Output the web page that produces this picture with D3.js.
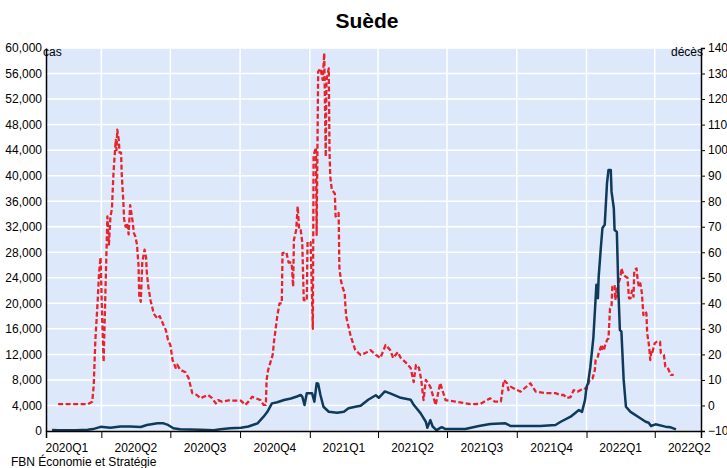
<!DOCTYPE html>
<html>
<head>
<meta charset="utf-8">
<script src="https://cdn.jsdelivr.net/npm/d3@7"></script>
<style>
  html, body { margin: 0; padding: 0; background: #ffffff; }
  svg { display: block; font-family: Arial, "Liberation Sans", sans-serif; }
</style>
</head>
<body>
<svg id="chart" width="727" height="468"></svg>
<script>
// ---------- data ----------
const title = "Suède";
const leftLabel = "cas";
const rightLabel = "décès";
const source = "FBN Économie et Stratégie";
const quarterLabels = ["2020Q1","2020Q2","2020Q3","2020Q4","2021Q1","2021Q2","2021Q3","2021Q4","2022Q1","2022Q2"];
const leftTicks = [0,4000,8000,12000,16000,20000,24000,28000,32000,36000,40000,44000,48000,52000,56000,60000];
const rightTicks = [-10,0,10,20,30,40,50,60,70,80,90,100,110,120,130,140];

// cases (left axis)
const caseDates = ["2020-01-27","2020-02-04","2020-02-27","2020-03-14","2020-03-21","2020-03-31","2020-04-13","2020-04-26","2020-05-09","2020-05-23","2020-05-31","2020-06-14","2020-06-22","2020-06-28","2020-07-05","2020-07-14","2020-08-10","2020-08-27","2020-09-05","2020-09-18","2020-10-02","2020-10-12","2020-10-24","2020-11-01","2020-11-06","2020-11-12","2020-11-19","2020-11-28","2020-12-07","2020-12-15","2020-12-20","2020-12-22","2020-12-25","2020-12-28","2021-01-04","2021-01-07","2021-01-10","2021-01-12","2021-01-15","2021-01-19","2021-01-26","2021-02-06","2021-02-15","2021-02-21","2021-03-02","2021-03-09","2021-03-19","2021-03-29","2021-04-02","2021-04-10","2021-04-17","2021-05-01","2021-05-14","2021-05-18","2021-05-27","2021-06-03","2021-06-05","2021-06-09","2021-06-12","2021-06-17","2021-06-24","2021-06-29","2021-07-25","2021-08-12","2021-08-27","2021-09-16","2021-09-23","2021-11-01","2021-11-21","2021-11-28","2021-12-11","2021-12-22","2021-12-26","2021-12-30","2022-01-01","2022-01-03","2022-01-06","2022-01-10","2022-01-12","2022-01-14","2022-01-16","2022-01-17","2022-01-20","2022-01-22","2022-01-25","2022-01-28","2022-01-30","2022-02-02","2022-02-03","2022-02-06","2022-02-07","2022-02-10","2022-02-12","2022-02-14","2022-02-16","2022-02-19","2022-02-22","2022-02-28","2022-03-13","2022-03-20","2022-03-24","2022-03-27","2022-04-02","2022-04-15","2022-04-22","2022-04-29"];
const caseValues = [150,100,120,200,300,650,520,700,700,620,940,1200,1200,950,430,270,180,120,260,420,520,700,1200,2240,3000,4330,4500,4850,5100,5400,5640,5400,4070,5900,5900,4600,7470,7400,5640,3800,3020,2870,3020,3550,3800,3950,4900,5600,5200,6200,5900,5200,4900,4100,2800,1450,500,1700,700,150,600,300,300,780,1100,1200,780,780,940,1450,2240,3300,3000,4850,6900,7500,10000,14600,18700,22900,20800,24100,28900,31800,32300,38800,40900,40900,37500,34900,31500,31200,22100,15800,15600,8000,3800,3000,2000,1450,1300,780,1050,680,580,260];

// deaths (right axis)
const deathDates = ["2020-02-04","2020-03-14","2020-03-20","2020-03-22","2020-03-24","2020-03-27","2020-03-29","2020-03-31","2020-04-02","2020-04-04","2020-04-06","2020-04-09","2020-04-11","2020-04-13","2020-04-15","2020-04-17","2020-04-20","2020-04-21","2020-04-22","2020-04-24","2020-04-25","2020-04-27","2020-04-28","2020-04-30","2020-05-01","2020-05-03","2020-05-05","2020-05-07","2020-05-09","2020-05-12","2020-05-14","2020-05-16","2020-05-18","2020-05-20","2020-05-21","2020-05-23","2020-05-25","2020-05-28","2020-05-30","2020-05-31","2020-06-02","2020-06-05","2020-06-07","2020-06-09","2020-06-14","2020-06-17","2020-06-22","2020-06-25","2020-06-28","2020-07-01","2020-07-04","2020-07-08","2020-07-10","2020-07-14","2020-07-21","2020-07-25","2020-07-30","2020-08-05","2020-08-10","2020-08-14","2020-08-20","2020-08-25","2020-08-30","2020-09-02","2020-09-07","2020-09-18","2020-09-22","2020-10-02","2020-10-08","2020-10-12","2020-10-17","2020-10-21","2020-10-28","2020-11-01","2020-11-04","2020-11-05","2020-11-07","2020-11-13","2020-11-15","2020-11-19","2020-11-22","2020-11-25","2020-11-26","2020-12-01","2020-12-04","2020-12-08","2020-12-10","2020-12-11","2020-12-14","2020-12-16","2020-12-18","2020-12-20","2020-12-22","2020-12-24","2020-12-28","2020-12-29","2021-01-02","2021-01-05","2021-01-06","2021-01-09","2021-01-10","2021-01-12","2021-01-15","2021-01-18","2021-01-20","2021-01-22","2021-01-23","2021-01-26","2021-01-27","2021-01-28","2021-01-30","2021-02-03","2021-02-04","2021-02-08","2021-02-09","2021-02-11","2021-02-13","2021-02-16","2021-02-17","2021-02-18","2021-02-24","2021-03-02","2021-03-09","2021-03-15","2021-03-22","2021-03-29","2021-04-04","2021-04-11","2021-04-17","2021-04-21","2021-04-27","2021-05-01","2021-05-07","2021-05-14","2021-05-18","2021-05-21","2021-05-25","2021-05-28","2021-05-31","2021-06-03","2021-06-09","2021-06-16","2021-06-22","2021-06-29","2021-07-12","2021-08-01","2021-08-14","2021-08-27","2021-09-02","2021-09-10","2021-09-14","2021-09-18","2021-09-20","2021-09-23","2021-10-06","2021-10-19","2021-10-26","2021-11-08","2021-11-21","2021-11-28","2021-12-02","2021-12-06","2021-12-11","2021-12-15","2021-12-20","2021-12-24","2021-12-28","2022-01-01","2022-01-05","2022-01-09","2022-01-12","2022-01-13","2022-01-16","2022-01-17","2022-01-20","2022-01-21","2022-01-22","2022-01-24","2022-01-25","2022-01-28","2022-01-30","2022-02-01","2022-02-03","2022-02-04","2022-02-07","2022-02-08","2022-02-10","2022-02-11","2022-02-12","2022-02-15","2022-02-16","2022-02-19","2022-02-22","2022-02-24","2022-02-26","2022-02-28","2022-03-02","2022-03-04","2022-03-05","2022-03-08","2022-03-09","2022-03-11","2022-03-13","2022-03-15","2022-03-17","2022-03-20","2022-03-21","2022-03-22","2022-03-24","2022-03-25","2022-03-26","2022-03-28","2022-03-29","2022-04-01","2022-04-04","2022-04-08","2022-04-09","2022-04-13","2022-04-15","2022-04-18","2022-04-22","2022-04-26"];
const deathValues = [0.5,0.5,1.5,8,25,40,52,58,35,17,40,74,63,74,77,91,104,100,108,104,99,99,90,80,73,70,71.5,67,78.5,72.6,67.5,66,63,55,43,40.6,56,61,58,52,46.5,41,38.7,36,34,35,31.5,29.6,25.6,23.7,17.8,14.7,16,14,13,10.8,4.8,4.1,2.8,3.4,4.1,2.9,0.8,2.1,1.5,2.1,1.9,1.9,0.2,1.5,3.4,2.9,2.1,0.2,0.2,10,13.9,19.8,25.6,34.8,40,40,59.7,60,56,56,46.5,64.8,68.7,78,68.7,68.7,64,41.3,41,64,64,30,98,101,66.8,130.7,132,127.5,138,97.4,127.5,132,99,89.6,84.4,83,74,75.4,54,49,46.5,44,38.7,34.8,27,21.7,19.8,20.5,21.7,19.8,18.6,23.7,21.7,18.6,20.9,18.6,17,14.7,9.2,15.9,14.7,10,2.1,10,7.3,0.2,8.8,2.1,1.5,0.5,0.6,2.8,1.5,1.5,10,8.7,6,7.3,5.4,8.7,5.4,4.8,4.8,4.1,4.1,2.9,3.3,6,5.4,6,6.8,6.4,10,10.6,13.9,17.8,19.1,20.5,23,21.7,23,21.7,23,25.6,26.3,38,38.7,46.5,47.2,41.3,46.5,42.6,47.8,50.4,53.7,51,50.4,50,42,42,45,42.6,53,53.7,50.4,46.5,47.8,44,35.4,36.7,36,28.3,24.4,21.7,17.8,21.7,21,24.4,25,25,20.5,19.8,15.2,14.9,12,12];

// ---------- chart ----------
const parse = d3.timeParse("%Y-%m-%d");
const cases = caseDates.map((d, i) => ({ date: parse(d), value: caseValues[i] }));
const deaths = deathDates.map((d, i) => ({ date: parse(d), value: deathValues[i] }));

const svg = d3.select("#chart");
const L = 46, R = 701, T = 48, B = 431;

const x = d3.scaleTime().domain([parse("2020-01-19"), parse("2022-06-01")]).range([L, R]);
const yL = d3.scaleLinear().domain([0, 60000]).range([B, T]);
const yR = d3.scaleLinear().domain([-10, 140]).range([B, T]);

const quarterStarts = d3.timeMonth.every(3).range(parse("2020-04-01"), parse("2022-04-02"));
const quarterMids = quarterLabels.map((q, i) => {
  const y = +q.slice(0, 4), qn = +q.slice(5) - 1;
  const s = new Date(y, qn * 3, 1), e = new Date(y, qn * 3 + 3, 1);
  return new Date((+s + +e) / 2);
});

// background
svg.append("rect").attr("x", L).attr("y", T).attr("width", R - L).attr("height", B - T)
  .attr("fill", "#dde9fb");

// gridlines
svg.append("g").selectAll("line").data(leftTicks.slice(1)).join("line")
  .attr("x1", L).attr("x2", R).attr("y1", d => yL(d)).attr("y2", d => yL(d))
  .attr("stroke", "#ffffff").attr("stroke-width", 1.5);
svg.append("g").selectAll("line").data(quarterStarts).join("line")
  .attr("x1", d => x(d)).attr("x2", d => x(d)).attr("y1", T).attr("y2", B)
  .attr("stroke", "#ffffff").attr("stroke-width", 1.5);

// lines
const lineL = d3.line().x(d => x(d.date)).y(d => yL(d.value));
const lineR = d3.line().x(d => x(d.date)).y(d => yR(d.value));

svg.append("path").datum(deaths).attr("d", lineR)
  .attr("fill", "none").attr("stroke", "#e8232b").attr("stroke-width", 2.3)
  .attr("stroke-dasharray", "5,2.5").attr("stroke-linejoin", "round");

svg.append("path").datum(cases).attr("d", lineL)
  .attr("fill", "none").attr("stroke", "#0f3a5b").attr("stroke-width", 2.5)
  .attr("stroke-linejoin", "round");

// axes
const axL = svg.append("g").attr("transform", `translate(${L},0)`)
  .call(d3.axisLeft(yL).tickValues(leftTicks).tickSize(0).tickPadding(4).tickFormat(d3.format(",")));
axL.select(".domain").attr("stroke", "#000").attr("stroke-width", 1.5);
axL.selectAll("text").attr("font-size", 12).attr("fill", "#000").attr("font-family", "Arial, 'Liberation Sans', sans-serif");

const axR = svg.append("g").attr("transform", `translate(${R},0)`)
  .call(d3.axisRight(yR).tickValues(rightTicks).tickSize(4).tickPadding(3));
axR.select(".domain").attr("stroke", "#000").attr("stroke-width", 1.5);
axR.selectAll("line").attr("stroke", "#000");
axR.selectAll("text").attr("font-size", 12).attr("fill", "#000").attr("font-family", "Arial, 'Liberation Sans', sans-serif");

const axB = svg.append("g").attr("transform", `translate(0,${B})`)
  .call(d3.axisBottom(x).tickValues(quarterStarts).tickSize(7).tickFormat(""));
axB.select(".domain").attr("stroke", "#000").attr("stroke-width", 1.5);
axB.selectAll("line").attr("stroke", "#000");

svg.append("g").selectAll("text").data(quarterLabels).join("text")
  .attr("x", (d, i) => x(quarterMids[i])).attr("y", 452)
  .attr("text-anchor", "middle").attr("font-size", 12).attr("fill", "#000")
  .text(d => d);

// axis labels
svg.append("text").attr("x", 43).attr("y", 56).attr("font-size", 12).attr("fill", "#000").text(leftLabel);
svg.append("text").attr("x", 703).attr("y", 56).attr("text-anchor", "end").attr("font-size", 12).attr("fill", "#000").text(rightLabel);

// title
svg.append("text").attr("x", 367).attr("y", 28).attr("text-anchor", "middle")
  .attr("font-size", 21).attr("font-weight", "bold").attr("fill", "#000").text(title);

// source
svg.append("text").attr("x", 11).attr("y", 466).attr("font-size", 12).attr("fill", "#000").text(source);
</script>
</body>
</html>
